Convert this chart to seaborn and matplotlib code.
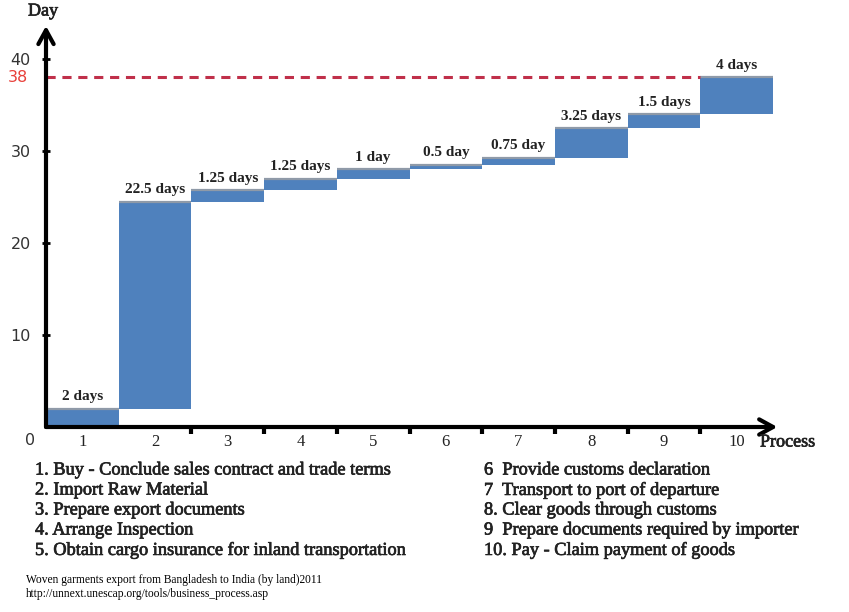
import numpy as np
import pandas as pd
import matplotlib
matplotlib.use("Agg")
import matplotlib.pyplot as plt
import matplotlib.patheffects as pe
import seaborn as sns

# ---- data ----
processes = ["1", "2", "3", "4", "5", "6", "7", "8", "9", "10"]
durations = [2, 22.5, 1.25, 1.25, 1, 0.5, 0.75, 3.25, 1.5, 4]
bar_labels = ["2 days", "22.5 days", "1.25 days", "1.25 days", "1 day",
              "0.5 day", "0.75 day", "3.25 days", "1.5 days", "4 days"]
y_ticks = [10, 20, 30, 40]
total_days = 38
steps_left = ["1. Buy - Conclude sales contract and trade terms",
              "2. Import Raw Material",
              "3. Prepare export documents",
              "4. Arrange Inspection",
              "5. Obtain cargo insurance for inland transportation"]
steps_right = ["6  Provide customs declaration",
               "7  Transport to port of departure",
               "8. Clear goods through customs",
               "9  Prepare documents required by importer",
               "10. Pay - Claim payment of goods"]
source_lines = ["Woven garments export from Bangladesh to India (by land)2011",
                "http://unnext.unescap.org/tools/business_process.asp"]

ends = np.cumsum(durations)
starts = ends - np.array(durations)
df = pd.DataFrame({"process": processes, "end": ends, "start": starts})

sns.set_style("white")
plt.rcParams["font.family"] = ["Liberation Serif", "DejaVu Serif"]

BLUE = "#4f81bd"
W, H = 849, 612
fig = plt.figure(figsize=(W / 100, H / 100), dpi=100)

# axes placement (pixels -> fractions)
px_per_x = 72.7
px_per_y = 9.2
x_left, x_right = -0.5, 9.62
y_top = 43.8
ax_left_px, ax_bottom_px = 46, 427
ax = fig.add_axes([ax_left_px / W,
                   (H - ax_bottom_px) / H,
                   (x_right - x_left) * px_per_x / W,
                   y_top * px_per_y / H])

sns.barplot(data=df, x="process", y="end", color=BLUE, saturation=1,
            width=1, linewidth=0, ax=ax, order=processes)
sns.barplot(data=df, x="process", y="start", color="white", saturation=1,
            width=1, linewidth=0, ax=ax, order=processes)

xs = np.arange(len(processes))
ax.hlines(ends, xs - 0.5, xs + 0.5, colors="#8f9aa8", linewidth=1.6, zorder=3)

ax.set_xlim(x_left, x_right)
ax.set_ylim(0, y_top)
ax.set_xlabel("")
ax.set_ylabel("")
for s in ax.spines.values():
    s.set_visible(False)

# dashed total line
ax.hlines(total_days, x_left, len(processes) - 1.5, colors="#c0304a",
          linestyles=(0, (3, 2.2)), linewidth=2.2, zorder=4)

# axis arrows
arrow = dict(arrowstyle="->,head_length=1.0,head_width=0.55", lw=3,
             color="black", shrinkA=0, shrinkB=0)
ax.annotate("", xy=(9.56, 0), xytext=(x_left, 0), arrowprops=arrow,
            annotation_clip=False, zorder=6)
ax.annotate("", xy=(x_left, 43.6), xytext=(x_left, 0), arrowprops=arrow,
            annotation_clip=False, zorder=6)

# ticks
ax.set_yticks(y_ticks)
ax.set_yticklabels([str(t) for t in y_ticks], family="DejaVu Sans",
                   fontsize=11.5, color="#333333")
ax.tick_params(axis="y", which="major", direction="inout", length=6,
               width=2, pad=8, left=True, color="black")
ax.set_xticks(xs)
ax.set_xticklabels(processes, fontsize=12, color="#222222")
ax.tick_params(axis="x", which="major", length=0, pad=5)
ax.set_xticks(np.arange(1.5, len(processes) - 1, 1.0), minor=True)
ax.tick_params(axis="x", which="minor", direction="inout", length=10,
               width=3, bottom=True, color="black")

# red 38 label
ax.annotate(str(total_days), xy=(0, total_days),
            xycoords=("axes fraction", "data"), xytext=(-13, 0),
            textcoords="offset points", ha="right", va="center",
            fontsize=11.5, color="#e8403a", family="DejaVu Sans")
# 0 label
ax.annotate("0", xy=(0, 0), xycoords="axes fraction", xytext=(-11.5, -10),
            textcoords="offset points", ha="center", va="center",
            fontsize=11.5, color="#333333", family="DejaVu Sans")

heavy = [pe.withStroke(linewidth=0.5, foreground="#222222")]

# bar labels
for i, (lab, top) in enumerate(zip(bar_labels, ends)):
    ax.text(i, top + 1.3, lab, ha="center", va="center", fontsize=11,
            fontweight="bold", color="#222222")

# axis titles
fig.text(43 / W, 1 - 11 / H, "Day", ha="center", va="center", fontsize=13,
         color="#222222", path_effects=heavy)
fig.text(760 / W, 1 - 442 / H, "Process", ha="left", va="center",
         fontsize=13, color="#222222", path_effects=heavy)

# legend of steps
for k, line in enumerate(steps_left):
    fig.text(35 / W, 1 - (470 + 20 * k) / H, line, ha="left", va="center",
             fontsize=13.2, color="#222222", path_effects=heavy)
for k, line in enumerate(steps_right):
    fig.text(484 / W, 1 - (470 + 20 * k) / H, line, ha="left", va="center",
             fontsize=13.2, color="#222222", path_effects=heavy)
for k, line in enumerate(source_lines):
    fig.text(26 / W, 1 - (580 + 14 * k) / H, line, ha="left", va="center",
             fontsize=8.3, color="black")

fig.savefig("out.png", dpi=100)
